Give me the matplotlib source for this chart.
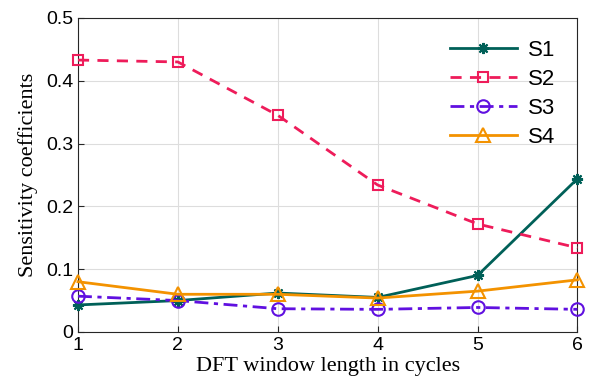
import matplotlib
matplotlib.use("Agg")
import matplotlib.pyplot as plt

cycles = [1, 2, 3, 4, 5, 6]
s1 = [0.043, 0.050, 0.062, 0.055, 0.090, 0.244]
s2 = [0.433, 0.430, 0.345, 0.234, 0.172, 0.134]
s3 = [0.057, 0.050, 0.037, 0.036, 0.039, 0.036]
s4 = [0.080, 0.060, 0.060, 0.054, 0.065, 0.083]

fig = plt.figure(figsize=(5.89, 3.91), dpi=100)
ax = fig.add_axes([0.1324, 0.151, 0.848, 0.803])

common = dict(lw=2, clip_on=False, zorder=3)
ax.plot(cycles, s1, color="#006058", marker=(8, 2, 0), ms=8, mew=1.5, label="S1", **common)
ax.plot(cycles, s2, color="#EE1C5A", ls=(0, (4, 3)), marker="s", ms=7,
        mfc="none", mew=1.5, label="S2", **common)
ax.plot(cycles, s3, color="#6010E0", ls=(0, (5, 2, 1.5, 2)), marker="o", ms=9,
        mfc="none", mew=1.5, label="S3", **common)
ax.plot(cycles, s4, color="#F39200", marker="^", ms=10, mfc="none", mew=1.5,
        label="S4", **common)

ax.set_xlim(1, 6)
ax.set_ylim(0, 0.5)
ax.set_xticks(cycles)
ax.set_yticks([0, 0.1, 0.2, 0.3, 0.4, 0.5])
ax.set_yticklabels(["0", "0.1", "0.2", "0.3", "0.4", "0.5"])
ax.grid(True, color="#dddddd", lw=0.8)
ax.tick_params(direction="in", labelsize=14, colors="#262626", length=4)
for lbl in ax.get_xticklabels() + ax.get_yticklabels():
    lbl.set_fontfamily("Liberation Sans")
    lbl.set_color("black")
for sp in ax.spines.values():
    sp.set_color("#262626")
    sp.set_linewidth(0.8)

ax.set_xlabel("DFT window length in cycles", family="Liberation Serif", fontsize=16,
              labelpad=2)
ax.set_ylabel("Sensitivity coefficients", family="Liberation Serif", fontsize=16,
              labelpad=6)

leg = ax.legend(loc="upper right", frameon=False, prop={"family": "Liberation Sans", "size": 16},
                handlelength=3, labelspacing=0.35, handletextpad=0.5, borderaxespad=0.6)

fig.savefig("out.png", dpi=100)
